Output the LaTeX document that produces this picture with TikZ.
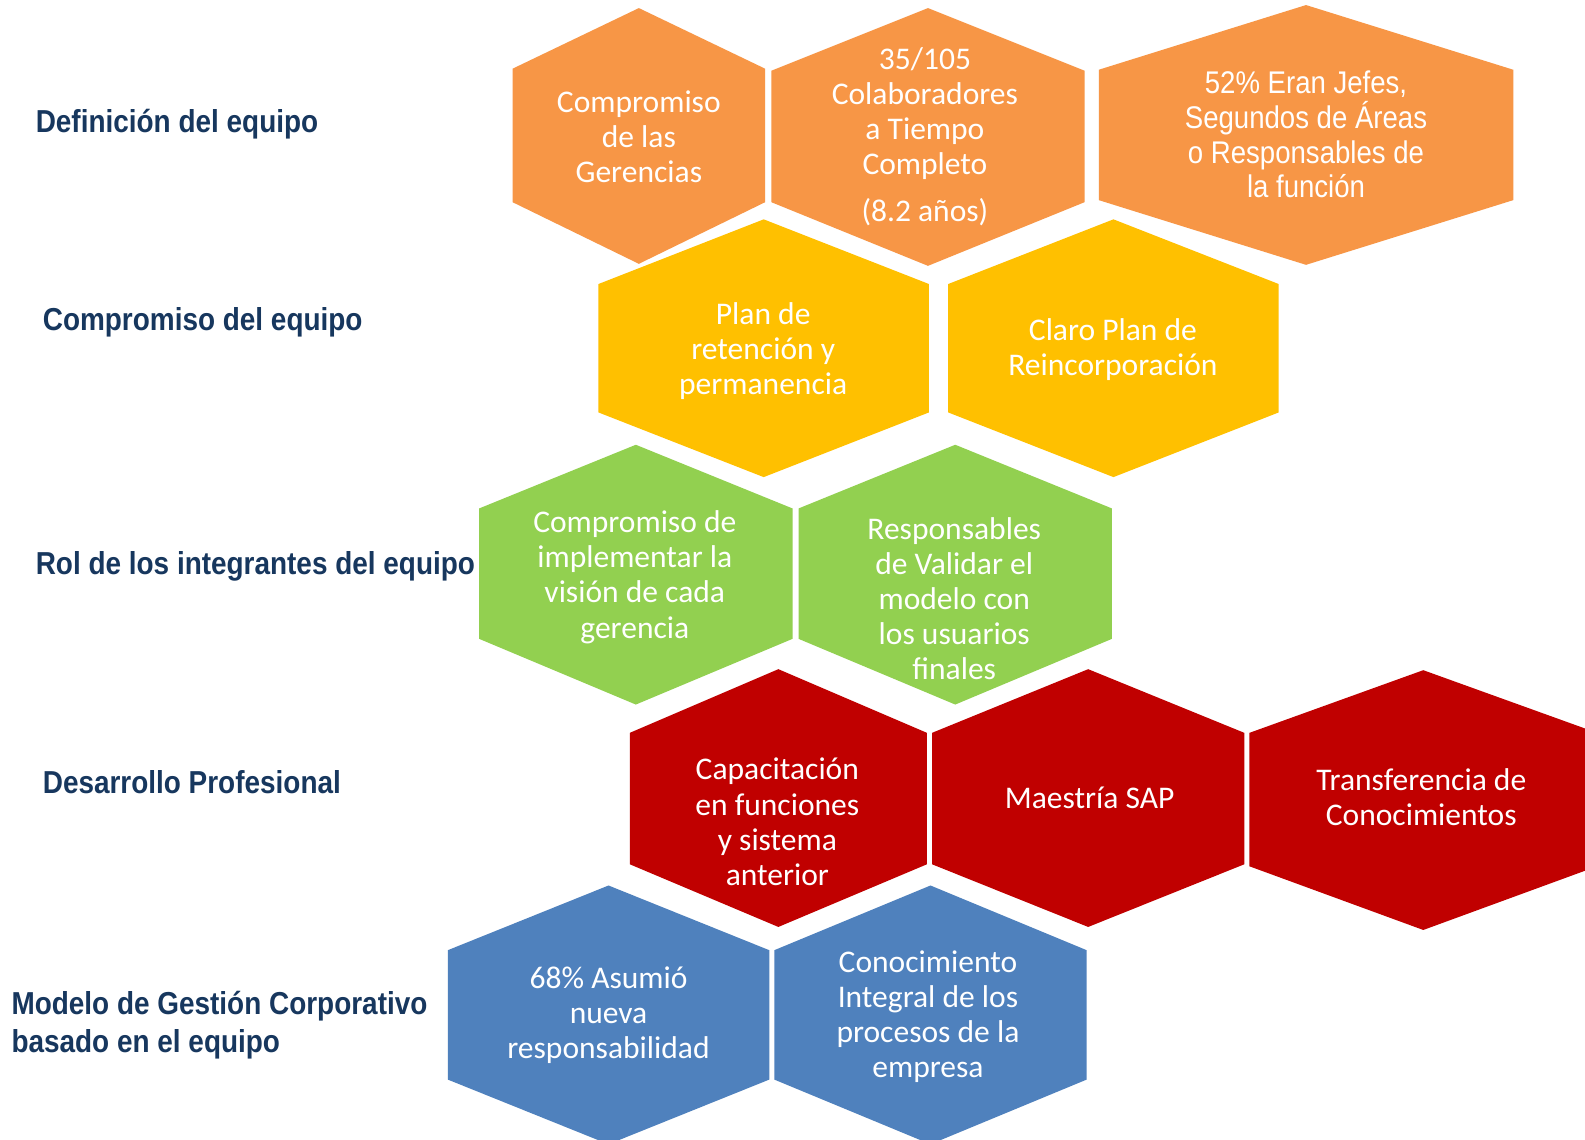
\documentclass[tikz,border=0pt]{standalone}
\usepackage{fontspec}
\newfontfamily\hexfont{Carlito}
\newfontfamily\narrowfont[FakeStretch=0.88]{Liberation Sans}
\definecolor{cOrange}{HTML}{F79646}
\definecolor{cYellow}{HTML}{FFC000}
\definecolor{cGreen}{HTML}{92D050}
\definecolor{cRed}{HTML}{C00000}
\definecolor{cBlue}{HTML}{4F81BD}
\definecolor{cNavy}{HTML}{17375E}
% #1 cx, #2 half width, #3 top, #4 upper corners, #5 lower corners, #6 bottom, #7 colour
\newcommand\hexshape[7]{%
  \fill[#7] (#1,#3) -- ({#1+#2},#4) -- ({#1+#2},#5) -- (#1,#6) -- ({#1-#2},#5) -- ({#1-#2},#4) -- cycle;}
\begin{document}
\begin{tikzpicture}[x=0.5pt,y=-0.5pt,
  hextext/.style={text=white,align=center,inner sep=0pt,
    font=\hexfont\fontsize{15.6pt}{17.35pt}\selectfont},
  hextextn/.style={text=white,align=center,inner sep=0pt,
    font=\narrowfont\fontsize{15.5pt}{17.2pt}\selectfont},
  rowlabel/.style={text=cNavy,anchor=west,align=left,inner sep=0pt,
    font=\narrowfont\bfseries\fontsize{15.7pt}{19pt}\selectfont}]
\useasboundingbox (0,0) rectangle (1568,1127);
\fill[white] (0,0) rectangle (1568,1127);
% row 1
\hexshape{632}{125}{8}{68}{200}{261}{cOrange}
\hexshape{918}{155}{8}{70}{200}{263}{cOrange}
\hexshape{1292}{205}{5}{69}{198}{262}{cOrange}
% row 2
\hexshape{755.5}{163.5}{217}{281}{408}{472}{cYellow}
\hexshape{1101.5}{163.5}{217}{281}{408}{472}{cYellow}
% row 3
\hexshape{629}{155}{440}{503}{632}{697}{cGreen}
\hexshape{945}{155}{440}{503}{632}{697}{cGreen}
% row 4
\hexshape{770}{147}{662}{725}{855}{917}{cRed}
\hexshape{1076.5}{154.5}{662}{725}{855}{917}{cRed}
\hexshape{1408}{172}{663}{725}{857}{920}{cRed}
% row 5
\hexshape{602}{159}{876}{940}{1068}{1132}{cBlue}
\hexshape{920.5}{154.5}{876}{940}{1068}{1132}{cBlue}
% labels
\node[rowlabel] (l1) at (35,123) {Definición del equipo};
\node[rowlabel] (l2) at (42,319) {Compromiso del equipo};
\node[rowlabel] (l3) at (35,560) {Rol de los integrantes del equipo};
\node[rowlabel] (l4) at (42,774) {Desarrollo Profesional};
\node[rowlabel] (l5) at (11,1014) {Modelo de Gestión Corporativo\\basado en el equipo};
% hex texts
\node[hextext] (a) at (632,135) {Compromiso\\de las\\Gerencias};
\node[hextext] (b) at (915,135.5) {35/105\\Colaboradores\\a Tiempo\\Completo\\[6pt](8.2 años)};
\node[hextextn] (c) at (1292,133) {52\% Eran Jefes,\\Segundos de Áreas\\o Responsables de\\la función};
\node[hextext] (d) at (755,347) {Plan de\\retención y\\permanencia};
\node[hextext] (e) at (1101,345.5) {Claro Plan de\\Reincorporación};
\node[hextext] (f) at (628,571) {Compromiso de\\implementar la\\visión de cada\\gerencia};
\node[hextext] (g) at (944,592) {Responsables\\de Validar el\\modelo con\\los usuarios\\finales};
\node[hextext] (h) at (769,813) {Capacitación\\en funciones\\y sistema\\anterior};
\node[hextext] (i) at (1078,789) {Maestría SAP};
\node[hextext] (j) at (1406,789) {Transferencia de\\Conocimientos};
\node[hextext] (k) at (602,1004) {68\% Asumió\\nueva\\responsabilidad};
\node[hextext] (l) at (918,1006) {Conocimiento\\Integral de los\\procesos de la\\empresa};
\end{tikzpicture}
\end{document}
